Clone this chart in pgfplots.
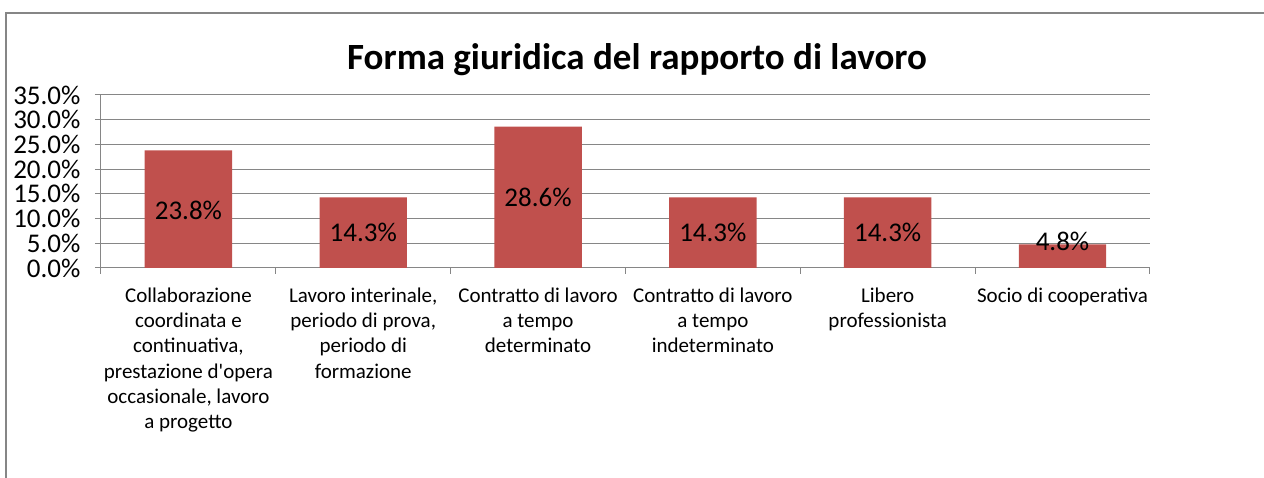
\documentclass[border=0pt]{standalone}
\usepackage{pgfplots}
\pgfplotsset{compat=1.18}
\usepackage{fontspec}
\setmainfont{Carlito}
\definecolor{barred}{HTML}{C0504D}
\definecolor{axgray}{HTML}{868686}
\begin{document}
\begin{tikzpicture}[x=1pt,y=1pt]
\useasboundingbox (0,0) rectangle (1264,478);
\draw[axgray, line width=2pt] (6,0) -- (6,465) -- (1264,465);
\node[font=\fontsize{37}{42}\selectfont\bfseries] at (637,418) {Forma giuridica del rapporto di lavoro};
\begin{axis}[
  at={(101pt,210pt)}, anchor=south west,
  scale only axis, width=1049pt, height=173pt,
  xmin=-0.5, xmax=5.5, ymin=0, ymax=35,
  axis lines*=left,
  axis line style={axgray, line width=1pt},
  ymajorgrids, grid style={axgray, line width=1pt},
  ytick={0,5,...,35},
  xtick={0,...,5},
  minor xtick={-0.5,0.5,...,5.5},
  major x tick style={draw=none},
  minor x tick style={axgray, line width=1pt},
  major y tick style={axgray, line width=1pt},
  tick align=outside,
  major tick length=6pt, minor tick length=6pt,
  /pgf/number format/assume math mode=true,
  yticklabel={\pgfmathprintnumber[fixed,fixed zerofill,precision=1]{\tick}\%},
  yticklabel style={font=\fontsize{27}{30}\selectfont, xshift=-11pt},
  xticklabels={{Collaborazione\\coordinata e\\continuativa,\\prestazione d\textquotesingle opera\\occasionale, lavoro\\a progetto},
    {Lavoro interinale,\\periodo di prova,\\periodo di\\formazione},
    {Contratto di lavoro\\a tempo\\determinato},
    {Contratto di lavoro\\a tempo\\indeterminato},
    {Libero\\professionista},
    {Socio di cooperativa}},
  xticklabel style={font=\fontsize{21}{25.3}\selectfont, align=center, anchor=north, yshift=-10pt},
  clip=false,
]
\addplot[ybar, bar width=0.5, fill=barred, draw=none] coordinates {
  (0,23.8) (1,14.3) (2,28.6) (3,14.3) (4,14.3) (5,4.8)};
\addplot[only marks, mark=none, point meta=explicit symbolic,
  nodes near coords, nodes near coords align={center},
  every node near coord/.append style={font=\fontsize{27}{30}\selectfont, text=black}]
  table[meta=label] {
x y label
0 11.6 23.8\%
1 7.15 14.3\%
2 14.3 28.6\%
3 7.15 14.3\%
4 7.15 14.3\%
5 5.46 4.8\%
};
\end{axis}
\end{tikzpicture}
\end{document}
